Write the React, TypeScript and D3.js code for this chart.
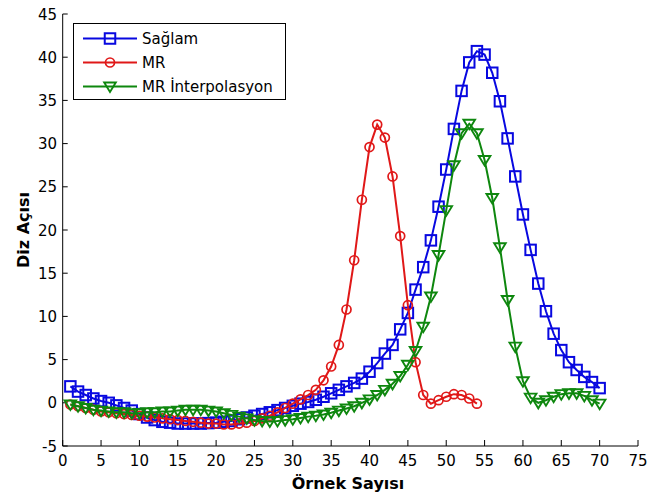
import React from "react";
import * as d3 from "d3";

// Sample-by-sample knee angle curves (sample 1 .. n)
const saglam: number[] = [
  1.9, 1.3, 0.9, 0.5, 0.2, 0.0, -0.3, -0.6, -0.9, -1.3,
  -1.7, -2.0, -2.2, -2.3, -2.4, -2.4, -2.4, -2.4, -2.35, -2.3,
  -2.2, -2.1, -1.9, -1.7, -1.5, -1.3, -1.1, -0.85, -0.6, -0.35,
  -0.1, 0.1, 0.35, 0.7, 1.1, 1.5, 1.9, 2.3, 2.8, 3.6,
  4.6, 5.7, 6.7, 8.5, 10.4, 13.1, 15.7, 18.8, 22.7, 27.0,
  31.7, 36.1, 39.4, 40.7, 40.3, 38.2, 34.9, 30.6, 26.2, 21.8,
  17.7, 13.8, 10.6, 8.0, 6.1, 4.7, 3.8, 3.0, 2.4, 1.7,
];

const mr: number[] = [
  -0.2, -0.4, -0.6, -0.8, -1.0, -1.1, -1.2, -1.3, -1.4, -1.5,
  -1.6, -1.7, -1.8, -1.9, -2.0, -2.1, -2.2, -2.3, -2.4, -2.4,
  -2.5, -2.5, -2.4, -2.3, -2.1, -1.8, -1.5, -1.1, -0.6, -0.1,
  0.4, 0.9, 1.5, 2.6, 4.2, 6.7, 10.8, 16.5, 23.5, 29.6,
  32.2, 30.7, 26.2, 19.3, 11.3, 4.7, 0.9, -0.1, 0.3, 0.7,
  1.0, 0.9, 0.5, -0.1,
];

const mrInterp: number[] = [
  -0.2, -0.4, -0.6, -0.8, -0.9, -1.0, -1.1, -1.1, -1.2, -1.2,
  -1.1, -1.1, -1.0, -1.0, -0.9, -0.8, -0.8, -0.8, -0.9, -1.0,
  -1.2, -1.4, -1.6, -1.8, -2.0, -2.1, -2.15, -2.1, -2.0, -1.9,
  -1.75, -1.6, -1.5, -1.35, -1.15, -0.9, -0.65, -0.4, 0.0, 0.4,
  0.9, 1.5, 2.2, 3.1, 4.4, 6.0, 8.8, 12.3, 17.1, 22.3,
  27.5, 31.2, 32.3, 31.2, 28.1, 23.7, 18.0, 11.9, 6.5, 2.5,
  0.6, 0.0, 0.3, 0.7, 1.0, 1.1, 1.1, 0.8, 0.3, -0.1,
];

const xTicks: number[] = [0, 5, 10, 15, 20, 25, 30, 35, 40, 45, 50, 55, 60, 65, 70, 75];
const yTicks: number[] = [-5, 0, 5, 10, 15, 20, 25, 30, 35, 40, 45];
const seriesNames: string[] = ["Sağlam", "MR", "MR İnterpolasyon"];
const seriesColors: string[] = ["#0808e0", "#e01818", "#0e870e"];
const seriesMarkers: string[] = ["square", "circle", "triangleDown"];

const W = 648;
const H = 499;
const FONT = "'DejaVu Sans', Arial, sans-serif";

function Marker({ kind, x, y, color }: { kind: string; x: number; y: number; color: string }) {
  if (kind === "square") {
    const s = 10.5;
    return (
      <rect x={x - s / 2} y={y - s / 2} width={s} height={s} fill="none" stroke={color} strokeWidth={2} />
    );
  }
  if (kind === "circle") {
    return <circle cx={x} cy={y} r={4.5} fill="none" stroke={color} strokeWidth={1.7} />;
  }
  const hw = 5.8;
  const h = 9.5;
  const pts = `${x - hw},${y - h * 0.42} ${x + hw},${y - h * 0.42} ${x},${y + h * 0.58}`;
  return <polygon points={pts} fill="none" stroke={color} strokeWidth={1.9} strokeLinejoin="miter" />;
}

export default function App() {
  const x = d3.scaleLinear().domain([0, 75]).range([62.7, 638]);
  const y = d3.scaleLinear().domain([-5, 45]).range([446, 14]);
  const all = [saglam, mr, mrInterp];

  const line = d3
    .line<number>()
    .x((_, i) => x(i + 1))
    .y((d) => y(d));

  const legendRows = [38.5, 62.5, 86.5];

  return (
    <svg
      width={W}
      height={H}
      style={{ position: "fixed", left: 0, top: 0, background: "#fff" }}
      fontFamily={FONT}
    >
      <rect x={0} y={0} width={W} height={H} fill="#fff" />

      {/* axes */}
      <line x1={x(0)} x2={x(75)} y1={y(-5)} y2={y(-5)} stroke="#000" strokeWidth={1} />
      <line x1={x(0)} x2={x(0)} y1={y(-5)} y2={y(45)} stroke="#000" strokeWidth={1} />
      {xTicks.map((t) => (
        <g key={"xt" + t}>
          <line x1={x(t)} x2={x(t)} y1={y(-5)} y2={y(-5) - 6} stroke="#000" />
          <text x={x(t)} y={466} textAnchor="middle" fontSize={15} fill="#000">
            {t}
          </text>
        </g>
      ))}
      {yTicks.map((t) => (
        <g key={"yt" + t}>
          <line x1={x(0)} x2={x(0) + 5} y1={y(t)} y2={y(t)} stroke="#000" />
          <text x={57} y={y(t) + 5.5} textAnchor="end" fontSize={15} fill="#000">
            {t}
          </text>
        </g>
      ))}

      {/* axis titles */}
      <text x={348} y={489} textAnchor="middle" fontSize={16} fontWeight="bold" fill="#000">
        Örnek Sayısı
      </text>
      <text
        transform={`translate(29, ${(y(-5) + y(45)) / 2}) rotate(-90)`}
        textAnchor="middle"
        fontSize={16}
        fontWeight="bold"
        fill="#000"
      >
        Diz Açısı
      </text>

      {/* series */}
      {all.map((data, si) => (
        <g key={"s" + si}>
          <path d={line(data) || ""} fill="none" stroke={seriesColors[si]} strokeWidth={2} />
          {data.map((v, i) => (
            <Marker key={i} kind={seriesMarkers[si]} x={x(i + 1)} y={y(v)} color={seriesColors[si]} />
          ))}
        </g>
      ))}

      {/* legend */}
      <rect x={73.5} y={23.5} width={212} height={76} fill="#fff" stroke="#000" strokeWidth={1} />
      {seriesNames.map((name, i) => (
        <g key={"lg" + i}>
          <line x1={83} x2={137} y1={legendRows[i]} y2={legendRows[i]} stroke={seriesColors[i]} strokeWidth={2} />
          <Marker kind={seriesMarkers[i]} x={110} y={legendRows[i]} color={seriesColors[i]} />
          <text x={142} y={legendRows[i] + 5.5} fontSize={15} fill="#000">
            {name}
          </text>
        </g>
      ))}
    </svg>
  );
}
